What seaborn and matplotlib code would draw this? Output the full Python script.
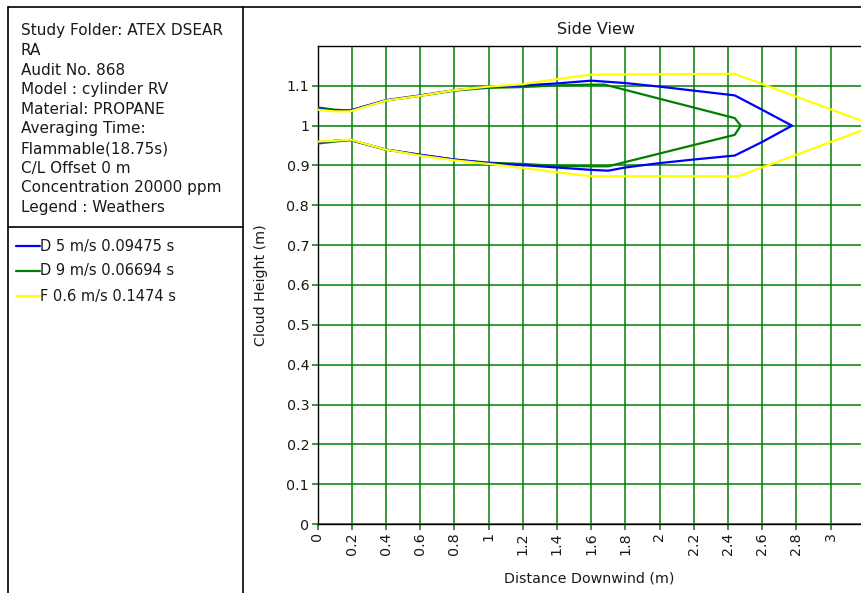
import matplotlib
matplotlib.use("Agg")
import matplotlib.pyplot as plt
import seaborn as sns
import pandas as pd
from matplotlib.lines import Line2D

# ---------------- data ----------------
series_names = ["D 5 m/s 0.09475 s", "D 9 m/s 0.06694 s", "F 0.6 m/s 0.1474 s"]
series_colors = ["#0000FF", "#008000", "#FFFF00"]

# D 5 m/s (blue): upper branch -> tip -> lower branch
d5_x = [0, 0.1, 0.19, 0.4, 0.6, 0.8, 1.0, 1.2, 1.4, 1.6, 1.8, 2.0, 2.2, 2.44, 2.6, 2.775,
        2.6, 2.44, 2.2, 2.0, 1.8, 1.7, 1.6, 1.4, 1.2, 1.0, 0.8, 0.6, 0.4, 0.19, 0.1, 0]
d5_y = [1.042, 1.038, 1.038, 1.064, 1.076, 1.089, 1.097, 1.101, 1.106, 1.113, 1.107, 1.098, 1.088, 1.076, 1.040, 1.0,
        0.959, 0.925, 0.915, 0.906, 0.895, 0.887, 0.889, 0.895, 0.901, 0.906, 0.915, 0.927, 0.940, 0.964, 0.962, 0.958]

# D 9 m/s (green)
d9_x = [0, 0.1, 0.19, 0.4, 0.6, 0.8, 1.0, 1.2, 1.4, 1.6, 1.68, 2.44, 2.475,
        2.44, 1.70, 1.6, 1.4, 1.2, 1.0, 0.8, 0.6, 0.4, 0.19, 0.1, 0]
d9_y = [1.046, 1.040, 1.038, 1.063, 1.075, 1.088, 1.095, 1.097, 1.101, 1.103, 1.103, 1.019, 1.0,
        0.977, 0.898, 0.898, 0.899, 0.904, 0.907, 0.915, 0.927, 0.940, 0.964, 0.960, 0.955]

# F 0.6 m/s (yellow)
f06_x = [0, 0.1, 0.19, 0.4, 0.6, 0.8, 1.0, 1.2, 1.4, 1.6, 2.44, 3.26,
         2.46, 1.6, 1.4, 1.2, 1.0, 0.8, 0.6, 0.4, 0.19, 0.1, 0]
f06_y = [1.040, 1.036, 1.036, 1.063, 1.075, 1.089, 1.098, 1.104, 1.117, 1.128, 1.130, 1.0,
         0.873, 0.873, 0.883, 0.894, 0.904, 0.913, 0.925, 0.940, 0.965, 0.962, 0.960]

x_ticks = [0, 0.2, 0.4, 0.6, 0.8, 1.0, 1.2, 1.4, 1.6, 1.8, 2.0, 2.2, 2.4, 2.6, 2.8, 3.0]
x_tick_labels = ["0", "0.2", "0.4", "0.6", "0.8", "1", "1.2", "1.4", "1.6", "1.8",
                 "2", "2.2", "2.4", "2.6", "2.8", "3"]
y_ticks = [0, 0.1, 0.2, 0.3, 0.4, 0.5, 0.6, 0.7, 0.8, 0.9, 1.0, 1.1]
y_tick_labels = ["0", "0.1", "0.2", "0.3", "0.4", "0.5", "0.6", "0.7", "0.8", "0.9", "1", "1.1"]

info_lines = ["Study Folder: ATEX DSEAR", "RA", "Audit No. 868", "Model : cylinder RV",
              "Material: PROPANE", "Averaging Time:", "Flammable(18.75s)", "C/L Offset 0 m",
              "Concentration 20000 ppm", "Legend : Weathers"]

title_text = "Side View"
x_label = "Distance Downwind (m)"
y_label = "Cloud Height (m)"

# ---------------- style ----------------
sns.set_style("white")
plt.rcParams["font.family"] = ["DejaVu Sans"]
plt.rcParams["font.size"] = 10

W, H = 861, 593
fig = plt.figure(figsize=(W / 100, H / 100), dpi=100)


def fx(px):
    return px / W


def fy(py):
    return 1 - py / H


GRID_GREEN = "#008000"
TXT = "#1a1a1a"

# axes placement
ax_left, ax_top, ax_bottom = 317.5, 46, 524
ax = fig.add_axes([fx(ax_left), fy(ax_bottom), fx(W - ax_left), (ax_bottom - ax_top) / H])

df = pd.concat([
    pd.DataFrame({"x": d9_x, "y": d9_y, "s": series_names[1]}),
    pd.DataFrame({"x": d5_x, "y": d5_y, "s": series_names[0]}),
    pd.DataFrame({"x": f06_x, "y": f06_y, "s": series_names[2]}),
])

for name, color in [(series_names[1], series_colors[1]),
                    (series_names[0], series_colors[0]),
                    (series_names[2], series_colors[2])]:
    sub = df[df["s"] == name]
    sns.lineplot(data=sub, x="x", y="y", sort=False, estimator=None, color=color,
                 linewidth=1.6, ax=ax, legend=False, zorder=3)

ax.set_xlim(0, (W - ax_left) / 171.0)
ax.set_ylim(0, 1.2)
ax.set_xticks(x_ticks)
ax.set_xticklabels(x_tick_labels, rotation=90)
ax.set_yticks(y_ticks)
ax.set_yticklabels(y_tick_labels)
ax.grid(True, color=GRID_GREEN, linewidth=1.1, zorder=1)
ax.set_axisbelow(True)
ax.tick_params(axis="both", which="major", length=4, width=1.1, color=GRID_GREEN,
               pad=2, labelsize=10.3, labelcolor=TXT, bottom=True, left=True)
for s in ["left", "bottom", "top"]:
    ax.spines[s].set_color("black")
    ax.spines[s].set_linewidth(1.0)
ax.spines["right"].set_visible(False)
ax.set_xlabel(x_label, fontsize=10.3, labelpad=12, color=TXT)
ax.set_ylabel(y_label, fontsize=10.3, labelpad=13, color=TXT)

fig.text(fx(596), fy(30), title_text, ha="center", va="center", fontsize=11.5, color=TXT)

# ---------------- frames ----------------
def fline(x0, y0, x1, y1):
    fig.add_artist(Line2D([fx(x0), fx(x1)], [fy(y0), fy(y1)], color="black",
                          linewidth=1.2, transform=fig.transFigure))

fline(8, 6.5, W, 6.5)
fline(8, 6.5, 8, H)
fline(243, 6.5, 243, H)
fline(8, 227, 243, 227)

# info text
for i, line in enumerate(info_lines):
    fig.text(fx(21), fy(31 + i * 19.6), line, ha="left", va="center", fontsize=11, color=TXT)

# legend entries
for i, (name, color) in enumerate(zip(series_names, series_colors)):
    yy = 246 + i * 25
    fig.add_artist(Line2D([fx(16), fx(40)], [fy(yy), fy(yy)], color=color, linewidth=1.6,
                          transform=fig.transFigure))
    fig.text(fx(40), fy(yy), name, ha="left", va="center", fontsize=10.5, color=TXT)

fig.savefig("out.png", dpi=100)
